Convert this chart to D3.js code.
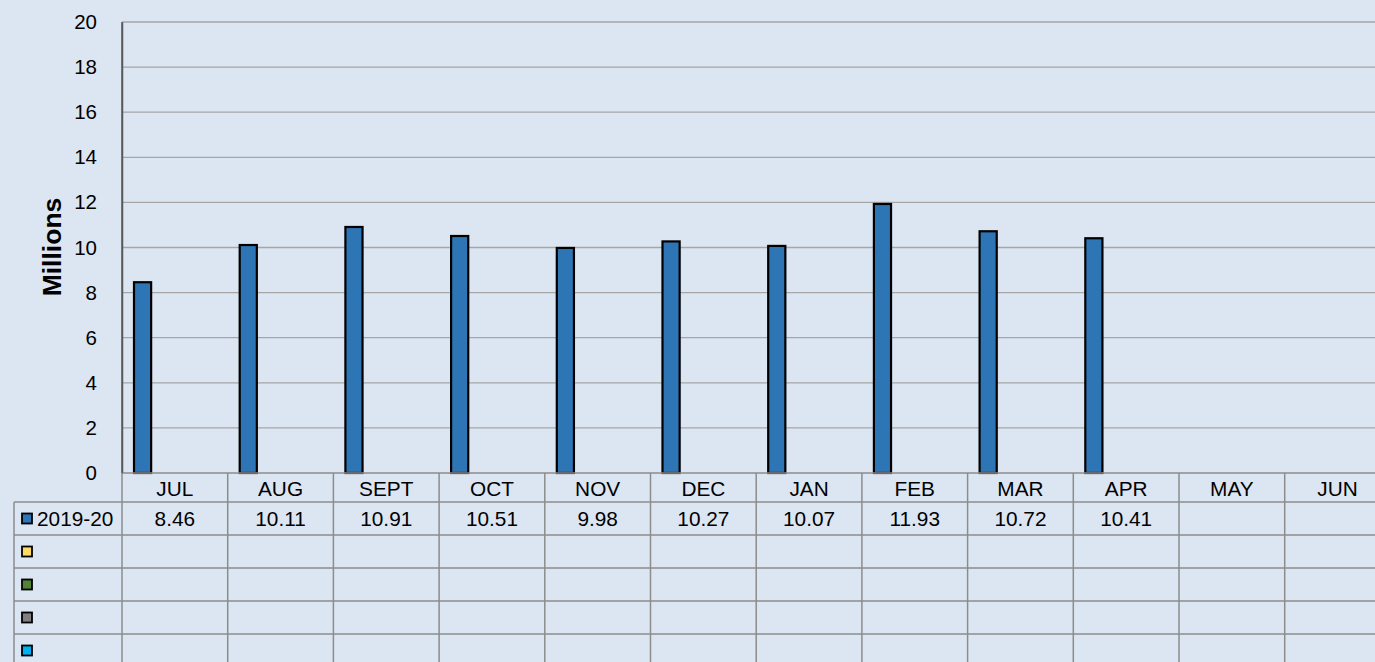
<!DOCTYPE html>
<html>
<head>
<meta charset="utf-8">
<script src="https://cdn.jsdelivr.net/npm/d3@7"></script>
<style>
  body { margin: 0; background: #dce6f2; overflow: hidden; }
  svg { display: block; font-family: "Liberation Sans", Arial, sans-serif; }
</style>
</head>
<body>
<div id="chart"></div>
<script>
// data
var months = ["JUL", "AUG", "SEPT", "OCT", "NOV", "DEC", "JAN", "FEB", "MAR", "APR", "MAY", "JUN"];
var seriesNames = ["2019-20", "", "", "", ""];
var seriesColors = ["#2e75b6", "#ffd966", "#548235", "#808080", "#00b0f0"];
var values2019 = [8.46, 10.11, 10.91, 10.51, 9.98, 10.27, 10.07, 11.93, 10.72, 10.41, null, null];
var yTicks = [0, 2, 4, 6, 8, 10, 12, 14, 16, 18, 20];

var series = [values2019, [], [], [], []];

var W = 1375, H = 662;
var plotLeft = 122, plotTop = 22, plotBottom = 473;
var bandW = 105.7;
var fs = 20.8;

var svg = d3.select("#chart").append("svg")
    .attr("width", W)
    .attr("height", H);

svg.append("rect").attr("width", W).attr("height", H).attr("fill", "#dce6f2");

var x0 = d3.scaleBand()
    .domain(months)
    .range([plotLeft, plotLeft + bandW * months.length])
    .paddingInner(0).paddingOuter(0);

var x1 = d3.scaleBand()
    .domain(d3.range(seriesNames.length))
    .range([12, x0.bandwidth() - 8]);

var y = d3.scaleLinear().domain([0, 20]).range([plotBottom, plotTop]);

// gridlines
svg.append("g")
    .selectAll("line")
    .data(yTicks.filter(function (d) { return d > 0; }))
    .join("line")
    .attr("x1", plotLeft).attr("x2", W)
    .attr("y1", function (d) { return y(d); })
    .attr("y2", function (d) { return y(d); })
    .attr("stroke", "#a6a6a6")
    .attr("stroke-width", 1.3);

// y axis
var yAxis = svg.append("g")
    .attr("transform", "translate(" + plotLeft + ",0)")
    .call(d3.axisLeft(y).tickValues(yTicks).tickSize(0).tickPadding(25));
yAxis.select(".domain").attr("stroke", "#595959").attr("stroke-width", 1.5);
yAxis.selectAll("text")
    .attr("font-size", 20.5)
    .attr("fill", "#000")
    .style("font-family", "'Liberation Sans', Arial, sans-serif");

svg.append("text")
    .attr("transform", "translate(61,247) rotate(-90)")
    .attr("text-anchor", "middle")
    .attr("font-size", 26.5)
    .attr("font-weight", "bold")
    .text("Millions");

// bars
series.forEach(function (vals, si) {
    svg.append("g")
        .selectAll("rect")
        .data(months.map(function (m, i) { return { m: m, v: vals[i] }; })
            .filter(function (d) { return d.v != null; }))
        .join("rect")
        .attr("x", function (d) { return x0(d.m) + x1(si); })
        .attr("width", x1.bandwidth())
        .attr("y", function (d) { return y(d.v); })
        .attr("height", function (d) { return y(0) - y(d.v); })
        .attr("fill", seriesColors[si])
        .attr("stroke", "#000")
        .attr("stroke-width", 2.2);
});

// data table
var tableLeft = 14;
var rowY = [473, 502, 535, 568, 601, 634, 667];
var right = x0.range()[1];
var grid = svg.append("g").attr("stroke", "#8c8c8c").attr("stroke-width", 1.5);

rowY.forEach(function (ry, i) {
    grid.append("line")
        .attr("x1", i == 0 ? plotLeft : tableLeft).attr("x2", right)
        .attr("y1", ry).attr("y2", ry);
});
grid.append("line").attr("x1", tableLeft).attr("x2", tableLeft).attr("y1", rowY[1]).attr("y2", H);
months.forEach(function (m) {
    grid.append("line")
        .attr("x1", x0(m)).attr("x2", x0(m))
        .attr("y1", rowY[0]).attr("y2", H);
});
grid.append("line").attr("x1", right).attr("x2", right).attr("y1", rowY[0]).attr("y2", H);

// axis line over the table line
svg.append("line")
    .attr("x1", plotLeft).attr("x2", plotLeft).attr("y1", plotTop).attr("y2", plotBottom)
    .attr("stroke", "#595959").attr("stroke-width", 1.5);

// month headers
svg.append("g")
    .selectAll("text")
    .data(months)
    .join("text")
    .attr("x", function (d) { return x0(d) + x0.bandwidth() / 2; })
    .attr("y", 496)
    .attr("text-anchor", "middle")
    .attr("font-size", fs)
    .text(function (d) { return d; });

// legend keys and values
seriesNames.forEach(function (name, si) {
    var cy = (rowY[si + 1] + rowY[si + 2]) / 2;
    svg.append("rect")
        .attr("x", 22).attr("y", cy - 5)
        .attr("width", 10).attr("height", 10)
        .attr("fill", seriesColors[si])
        .attr("stroke", "#000").attr("stroke-width", 1.8);
    if (name) {
        svg.append("text")
            .attr("x", 37).attr("y", cy + 7)
            .attr("font-size", fs)
            .text(name);
    }
    svg.append("g")
        .selectAll("text")
        .data(months.map(function (m, i) { return { m: m, v: series[si][i] }; })
            .filter(function (d) { return d.v != null; }))
        .join("text")
        .attr("x", function (d) { return x0(d.m) + x0.bandwidth() / 2; })
        .attr("y", cy + 7)
        .attr("text-anchor", "middle")
        .attr("font-size", fs)
        .text(function (d) { return d.v.toFixed(2); });
});
</script>
</body>
</html>
